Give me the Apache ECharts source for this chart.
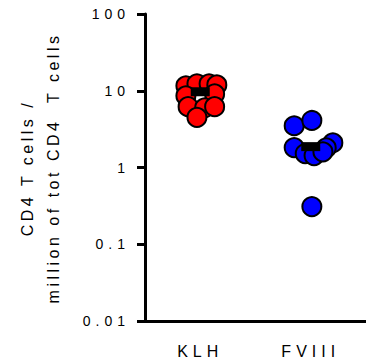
<!DOCTYPE html>
<html>
<head>
<meta charset="utf-8">
<script src="https://cdn.jsdelivr.net/npm/echarts@6/dist/echarts.min.js"></script>
<style>
  html, body { margin: 0; padding: 0; background: #fff; }
  #chart { width: 366px; height: 364px; }
  #chart text { letter-spacing: 5px; }
  #chart text[style*="Arial"] { letter-spacing: 3.5px; }
</style>
</head>
<body>
<div id="chart"></div>
<script>
// groups on the x axis
const groups = ['KLH', 'FVIII'];

// y axis (log) ticks
const yTickValues = [0.01, 0.1, 1, 10, 100];
const yTickLabels = ['0.01', '0.1', '1', '10', '100'];

// points: x jitter around the group centre, y value
const klhJitter = [-0.13, -0.03, 0.08, 0.15, -0.13, 0.13, -0.11, 0.04, 0.13, -0.03];
const klhValues = [11.6, 12.3, 12.3, 11.9, 8.6, 9.1, 6.2, 6.0, 6.2, 4.5];
const fviiiJitter = [-0.15, 0.01, -0.15, 0.2, 0.14, -0.05, 0.03, 0.11, 0.01];
const fviiiValues = [3.5, 4.1, 1.82, 2.1, 1.8, 1.52, 1.43, 1.6, 0.31];

// group means (black bars)
const means = [9.7, 1.87];

const titleLine1 = 'CD4 T cells /';
const titleLine2 = 'million of tot CD4  T cells';

const chart = echarts.init(document.getElementById('chart'), null, { renderer: 'svg' });

const toPoints = (jitter, values, idx) => values.map((v, i) => [idx + jitter[i], v]);

const option = {
  animation: false,
  grid: { left: 145, top: 14, bottom: 43, right: -11 },
  xAxis: [
    {
      type: 'category',
      data: groups,
      axisLine: { lineStyle: { color: '#000', width: 3 } },
      axisTick: { alignWithLabel: true, length: 9, lineStyle: { color: '#000', width: 3 } },
      axisLabel: { color: '#000', fontSize: 16, fontFamily: 'Liberation Sans', margin: 22 },
    },
    {
      type: 'value',
      min: -0.5,
      max: 1.5,
      show: false,
    },
  ],
  yAxis: {
    type: 'log',
    logBase: 10,
    min: 0.01,
    max: 100,
    splitLine: { show: false },
    axisLine: { onZero: false, lineStyle: { color: '#000', width: 3 } },
    axisTick: { length: 8, lineStyle: { color: '#000', width: 3 } },
    axisLabel: {
      color: '#000',
      fontSize: 14,
      fontFamily: 'Liberation Sans',
      margin: 15,
      formatter: (v) => {
        const i = yTickValues.findIndex((t) => Math.abs(Math.log10(t) - Math.log10(v)) < 1e-6);
        return i >= 0 ? yTickLabels[i] : '';
      },
    },
  },
  graphic: [
    {
      type: 'text',
      x: 27,
      y: 168,
      rotation: Math.PI / 2,
      style: { text: titleLine1, fontSize: 16, fontFamily: 'Arial', fill: '#000', align: 'center', verticalAlign: 'middle' },
    },
    {
      type: 'text',
      x: 53,
      y: 168,
      rotation: Math.PI / 2,
      style: { text: titleLine2, fontSize: 16, fontFamily: 'Arial', fill: '#000', align: 'center', verticalAlign: 'middle' },
    },
  ],
  series: [
    {
      type: 'scatter',
      xAxisIndex: 1,
      data: toPoints(klhJitter, klhValues, 0),
      symbolSize: 19,
      itemStyle: { color: '#ff0000', borderColor: '#000', borderWidth: 2, opacity: 1 },
    },
    {
      type: 'scatter',
      xAxisIndex: 1,
      data: toPoints(fviiiJitter, fviiiValues, 1),
      symbolSize: 19,
      itemStyle: { color: '#0000ff', borderColor: '#000', borderWidth: 2, opacity: 1 },
    },
    {
      type: 'scatter',
      xAxisIndex: 1,
      data: means.map((m, i) => [i, m]),
      symbol: 'rect',
      symbolSize: [19, 9],
      z: 5,
      itemStyle: { color: '#000', opacity: 1 },
    },
  ],
};

chart.setOption(option);
</script>
</body>
</html>
